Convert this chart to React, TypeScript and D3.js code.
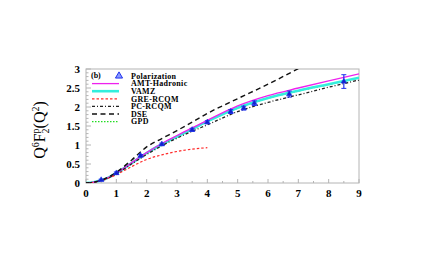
import React, { useEffect, useRef } from 'react'
import * as d3 from 'd3'

// curve grids
const curveX = [0, 0.25, 0.5, 0.75, 1, 1.5, 2, 2.5, 3, 3.5, 4, 5, 6, 7, 8, 9]
const amtHadronic = [0, 0.02, 0.07, 0.15, 0.26, 0.53, 0.8, 1.04, 1.25, 1.45, 1.65, 2.03, 2.3, 2.5, 2.69, 2.87]
const vamz = [0, 0.02, 0.07, 0.15, 0.26, 0.52, 0.79, 1.02, 1.22, 1.42, 1.62, 1.98, 2.24, 2.43, 2.6, 2.77]
const gpd = [0, 0.02, 0.07, 0.15, 0.27, 0.53, 0.8, 1.03, 1.23, 1.43, 1.62, 1.97, 2.23, 2.42, 2.59, 2.76]
const pcRcqm = [0, 0.02, 0.06, 0.14, 0.24, 0.5, 0.75, 0.98, 1.18, 1.36, 1.53, 1.88, 2.12, 2.32, 2.52, 2.71]

const dseX = [0, 0.25, 0.5, 0.75, 1, 1.5, 2, 2.5, 3, 3.5, 4, 5, 6, 7]
const dse = [0, 0.02, 0.07, 0.16, 0.28, 0.6, 0.95, 1.17, 1.38, 1.6, 1.83, 2.22, 2.6, 3.01]

const greX = [0, 0.25, 0.5, 0.75, 1, 1.5, 2, 2.5, 3, 3.5, 4]
const greRcqm = [0, 0.02, 0.06, 0.13, 0.22, 0.43, 0.62, 0.74, 0.83, 0.89, 0.93]

// polarization data
const polX = [0.5, 1.0, 1.8, 2.5, 3.5, 4.0, 4.77, 5.2, 5.55, 6.7, 8.5]
const polY = [0.08, 0.26, 0.72, 1.02, 1.4, 1.6, 1.88, 1.97, 2.1, 2.34, 2.67]
const polErr = [0.02, 0.03, 0.03, 0.03, 0.04, 0.04, 0.05, 0.05, 0.06, 0.08, 0.18]

const xTicks = [0, 1, 2, 3, 4, 5, 6, 7, 8, 9]
const yTicks = [0, 0.5, 1, 1.5, 2, 2.5, 3]
const yTickLabels = ['0', '0.5', '1', '1.5', '2', '2.5', '3']

const legendNames = ['Polarization', 'AMT-Hadronic', 'VAMZ', 'GRE-RCQM', 'PC-RCQM', 'DSE', 'GPD']

const FONT = '"Liberation Serif", "DejaVu Serif", serif'

function drawChart(el: SVGSVGElement) {
  const svg = d3.select(el)
  svg.selectAll('*').remove()

  const x = d3.scaleLinear().domain([0, 9]).range([86, 359])
  const y = d3.scaleLinear().domain([0, 3]).range([183, 69])
  const frame = '#b4b4b4'

  const clip = svg.append('clipPath').attr('id', 'plotclip')
  clip.append('rect').attr('x', 86).attr('y', 69).attr('width', 273).attr('height', 114)

  // frame
  svg.append('rect').attr('x', 86).attr('y', 69).attr('width', 273).attr('height', 114)
    .attr('fill', 'none').attr('stroke', frame).attr('stroke-width', 1)

  // x ticks
  const xMinor = d3.range(0, 9.01, 0.5)
  svg.append('g').selectAll('line').data(xMinor).join('line')
    .attr('x1', d => x(d)).attr('x2', d => x(d))
    .attr('y1', 183).attr('y2', d => 183 - (Number.isInteger(d) ? 4 : 2))
    .attr('stroke', frame)
  svg.append('g').selectAll('text').data(xTicks).join('text')
    .attr('x', d => x(d)).attr('y', 197)
    .attr('text-anchor', 'middle')
    .attr('font-family', FONT).attr('font-weight', 'bold').attr('font-size', 11)
    .text(d => d)

  // y ticks
  const yMinor = d3.range(0, 3.001, 0.1)
  svg.append('g').selectAll('line').data(yMinor).join('line')
    .attr('y1', d => y(d)).attr('y2', d => y(d))
    .attr('x1', 86).attr('x2', d => 86 + (Math.abs(d * 2 - Math.round(d * 2)) < 1e-6 ? 5 : 2.5))
    .attr('stroke', frame)
  svg.append('g').selectAll('text').data(yTicks).join('text')
    .attr('x', 80).attr('y', d => y(d) + 3.5)
    .attr('text-anchor', 'end')
    .attr('font-family', FONT).attr('font-weight', 'bold').attr('font-size', 11)
    .text((d, i) => yTickLabels[i])

  // y label
  const yl = svg.append('text')
    .attr('transform', 'translate(45,130) rotate(-90)')
    .attr('text-anchor', 'middle')
    .attr('font-family', FONT).attr('font-size', 16)
  yl.append('tspan').text('Q')
  yl.append('tspan').attr('dy', -6).attr('font-size', 10).text('6')
  yl.append('tspan').attr('dy', 6).text('F')
  yl.append('tspan').attr('dy', -6).attr('font-size', 10).text('p')
  yl.append('tspan').attr('dx', -5).attr('dy', 10).attr('font-size', 10).text('2')
  yl.append('tspan').attr('dy', -4).text('(Q')
  yl.append('tspan').attr('dy', -6).attr('font-size', 10).text('2')
  yl.append('tspan').attr('dy', 6).text(')')

  const plot = svg.append('g').attr('clip-path', 'url(#plotclip)')
  const line = d3.line<[number, number]>().x(d => x(d[0])).y(d => y(d[1])).curve(d3.curveMonotoneX)
  const zip = (xs: number[], ys: number[]) => xs.map((v, i) => [v, ys[i]] as [number, number])

  const series = [
    { data: zip(curveX, gpd), color: '#22dd22', width: 1.2, dash: '1.5,1.5' },
    { data: zip(curveX, vamz), color: '#33eedd', width: 2.6, dash: null },
    { data: zip(curveX, amtHadronic), color: '#ee22ee', width: 1.3, dash: null },
    { data: zip(greX, greRcqm), color: '#ff2a2a', width: 1.2, dash: '2.5,2' },
    { data: zip(curveX, pcRcqm), color: '#222222', width: 1.3, dash: '3,2,1,2' },
    { data: zip(dseX, dse), color: '#111111', width: 1.4, dash: '5,3.5' }
  ]
  series.forEach(s => {
    plot.append('path').attr('d', line(s.data) as string)
      .attr('fill', 'none').attr('stroke', s.color)
      .attr('stroke-width', s.width)
      .attr('stroke-dasharray', s.dash)
  })

  // polarization points
  const blue = '#2233ee'
  const pts = plot.append('g')
  polX.forEach((px, i) => {
    const cx = x(px)
    pts.append('line').attr('x1', cx).attr('x2', cx)
      .attr('y1', y(polY[i] - polErr[i])).attr('y2', y(polY[i] + polErr[i]))
      .attr('stroke', blue).attr('stroke-width', 1.2)
    ;[polY[i] - polErr[i], polY[i] + polErr[i]].forEach(v => {
      pts.append('line').attr('x1', cx - 2.5).attr('x2', cx + 2.5)
        .attr('y1', y(v)).attr('y2', y(v)).attr('stroke', blue).attr('stroke-width', 1)
    })
  })
  const tri = d3.symbol().type(d3.symbolTriangle).size(13)
  pts.selectAll('path.pt').data(polX).join('path')
    .attr('class', 'pt')
    .attr('transform', (d, i) => `translate(${x(d)},${y(polY[i])})`)
    .attr('d', tri() as string)
    .attr('fill', '#1122cc').attr('stroke', blue).attr('stroke-width', 0.6)

  // legend
  const lg = svg.append('g')
  lg.append('text').attr('x', 91).attr('y', 78)
    .attr('font-family', FONT).attr('font-weight', 'bold').attr('font-size', 8).text('(b)')
  const legendStyles = [
    null,
    { color: '#ee22ee', width: 1.3, dash: null },
    { color: '#33eedd', width: 2.6, dash: null },
    { color: '#ff2a2a', width: 1.2, dash: '2.5,2' },
    { color: '#222222', width: 1.3, dash: '3,2,1,2' },
    { color: '#111111', width: 1.4, dash: '5,3.5' },
    { color: '#22dd22', width: 1.2, dash: '1.5,1.5' }
  ]
  legendNames.forEach((name, i) => {
    const ly = 76 + i * 7.6
    const st = legendStyles[i]
    if (st) {
      lg.append('line').attr('x1', 92).attr('x2', 119).attr('y1', ly).attr('y2', ly)
        .attr('stroke', st.color).attr('stroke-width', st.width).attr('stroke-dasharray', st.dash)
    } else {
      lg.append('path').attr('transform', `translate(119,${ly})`)
        .attr('d', d3.symbol().type(d3.symbolTriangle).size(22)() as string)
        .attr('fill', '#8899ff').attr('stroke', blue).attr('stroke-width', 1)
    }
    lg.append('text').attr('x', 131).attr('y', ly + 2.8)
      .attr('font-family', FONT).attr('font-weight', 'bold').attr('font-size', 8)
      .attr('letter-spacing', 0.3)
      .text(name)
  })
}

export default function App() {
  const ref = useRef<SVGSVGElement>(null)
  useEffect(() => {
    if (ref.current) drawChart(ref.current)
  }, [])
  return (
    <svg ref={ref} width={431} height={273}
      style={{ position: 'absolute', left: 0, top: 0, background: '#fff' }} />
  )
}
